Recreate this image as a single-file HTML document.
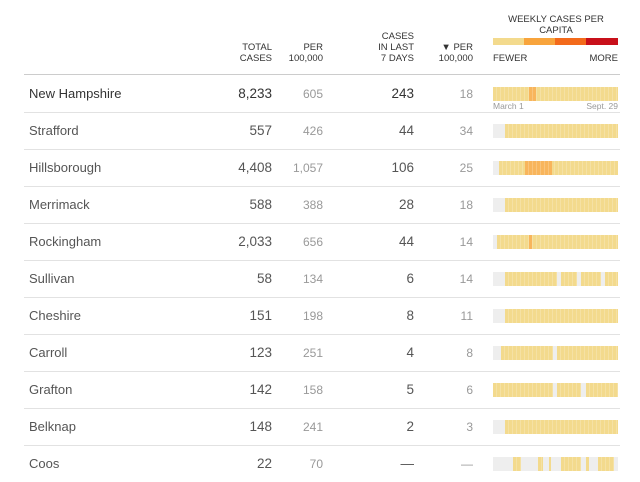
<!DOCTYPE html>
<html><head><meta charset="utf-8"><style>
body{margin:0;width:640px;height:482px;background:#fff;font-family:"Liberation Sans",sans-serif;position:relative;overflow:hidden}
.a{position:absolute;white-space:nowrap}
.h{font-size:9.5px;color:#333;text-align:right;line-height:11px}
.n{font-size:13px;color:#333;left:29px}
.t{font-size:13.5px;color:#333;text-align:right}
.p{font-size:12px;color:#999;text-align:right}
.line{position:absolute;left:24px;width:596px;height:1px;background:#e2e2e2}
</style></head><body>
<div class="a h" style="right:368px;top:42px">TOTAL<br>CASES</div>
<div class="a h" style="right:317px;top:42px">PER<br>100,000</div>
<div class="a h" style="right:226px;top:31px">CASES<br>IN LAST<br>7 DAYS</div>
<div class="a h" style="right:167px;top:42px">▼ PER<br>100,000</div>
<div class="a h" style="left:493px;width:126px;text-align:center;top:14px;line-height:11px">WEEKLY CASES PER<br>CAPITA</div>
<div class="a" style="left:493px;top:38px;width:31px;height:7px;background:#f3da8d"></div>
<div class="a" style="left:524px;top:38px;width:31px;height:7px;background:#f8a43c"></div>
<div class="a" style="left:555px;top:38px;width:31px;height:7px;background:#f36a1b"></div>
<div class="a" style="left:586px;top:38px;width:32px;height:7px;background:#c8101a"></div>
<div class="a h" style="left:493px;top:53px">FEWER</div>
<div class="a h" style="right:22px;top:53px">MORE</div>
<div class="a" style="left:493px;top:101px;font-size:8.5px;color:#999">March 1</div>
<div class="a" style="right:22px;top:101px;font-size:8.5px;color:#999">Sept. 29</div>
<div class="line" style="top:74px;background:#ccc"></div>
<div id="rows"></div>
<div class="a n" style="top:86px">New Hampshire</div><div class="a t" style="right:368px;top:86px">8,233</div><div class="a p" style="right:317px;top:87px">605</div><div class="a t" style="right:226px;top:86px">243</div><div class="a p" style="right:167px;top:87px">18</div>
<div class="a n" style="top:123px;color:#555">Strafford</div><div class="a t" style="right:368px;top:123px;color:#555">557</div><div class="a p" style="right:317px;top:124px">426</div><div class="a t" style="right:226px;top:123px;color:#555">44</div><div class="a p" style="right:167px;top:124px">34</div>
<div class="a n" style="top:160px;color:#555">Hillsborough</div><div class="a t" style="right:368px;top:160px;color:#555">4,408</div><div class="a p" style="right:317px;top:161px">1,057</div><div class="a t" style="right:226px;top:160px;color:#555">106</div><div class="a p" style="right:167px;top:161px">25</div>
<div class="a n" style="top:197px;color:#555">Merrimack</div><div class="a t" style="right:368px;top:197px;color:#555">588</div><div class="a p" style="right:317px;top:198px">388</div><div class="a t" style="right:226px;top:197px;color:#555">28</div><div class="a p" style="right:167px;top:198px">18</div>
<div class="a n" style="top:234px;color:#555">Rockingham</div><div class="a t" style="right:368px;top:234px;color:#555">2,033</div><div class="a p" style="right:317px;top:235px">656</div><div class="a t" style="right:226px;top:234px;color:#555">44</div><div class="a p" style="right:167px;top:235px">14</div>
<div class="a n" style="top:271px;color:#555">Sullivan</div><div class="a t" style="right:368px;top:271px;color:#555">58</div><div class="a p" style="right:317px;top:272px">134</div><div class="a t" style="right:226px;top:271px;color:#555">6</div><div class="a p" style="right:167px;top:272px">14</div>
<div class="a n" style="top:308px;color:#555">Cheshire</div><div class="a t" style="right:368px;top:308px;color:#555">151</div><div class="a p" style="right:317px;top:309px">198</div><div class="a t" style="right:226px;top:308px;color:#555">8</div><div class="a p" style="right:167px;top:309px">11</div>
<div class="a n" style="top:345px;color:#555">Carroll</div><div class="a t" style="right:368px;top:345px;color:#555">123</div><div class="a p" style="right:317px;top:346px">251</div><div class="a t" style="right:226px;top:345px;color:#555">4</div><div class="a p" style="right:167px;top:346px">8</div>
<div class="a n" style="top:382px;color:#555">Grafton</div><div class="a t" style="right:368px;top:382px;color:#555">142</div><div class="a p" style="right:317px;top:383px">158</div><div class="a t" style="right:226px;top:382px;color:#555">5</div><div class="a p" style="right:167px;top:383px">6</div>
<div class="a n" style="top:419px;color:#555">Belknap</div><div class="a t" style="right:368px;top:419px;color:#555">148</div><div class="a p" style="right:317px;top:420px">241</div><div class="a t" style="right:226px;top:419px;color:#555">2</div><div class="a p" style="right:167px;top:420px">3</div>
<div class="a n" style="top:456px;color:#555">Coos</div><div class="a t" style="right:368px;top:456px;color:#555">22</div><div class="a p" style="right:317px;top:457px">70</div><div class="a t" style="right:226px;top:456px;color:#555">—</div><div class="a p" style="right:167px;top:457px">—</div>
<script>
var Y='#f3da8d',O='#f8b55c';
var rows=[
[[493,618,Y],[529,536,O]],
[[505,618,Y]],
[[499,618,Y],[525,552,O]],
[[505,618,Y]],
[[497,618,Y],[529,532,O]],
[[505,557,Y],[561,577,Y],[581,601,Y],[605,618,Y]],
[[505,618,Y]],
[[501,553,Y],[557,618,Y]],
[[493,553,Y],[557,581,Y],[586,618,Y]],
[[505,618,Y]],
[[513,521,Y],[538,543,Y],[549,551,Y],[561,581,Y],[586,589,Y],[598,614,Y]]
];
var h='';
rows.forEach(function(r,i){
 var cy=94+i*37;
 if(i>0)h+='<div class="line" style="top:'+(cy-19)+'px"></div>';
 h+='<div class="a" style="left:493px;top:'+(cy-7)+'px;width:125px;height:14px;background:#eee"></div>';
 r.forEach(function(s){
  h+='<div class="a" style="left:'+s[0]+'px;top:'+(cy-7)+'px;width:'+(s[1]-s[0])+'px;height:14px;background:'+s[2]+';background-image:repeating-linear-gradient(90deg,rgba(255,255,255,0) 0 3px,rgba(255,255,255,.2) 3px 4px)"></div>';
 });
});
document.getElementById('rows').innerHTML=h;
</script>
</body></html>
